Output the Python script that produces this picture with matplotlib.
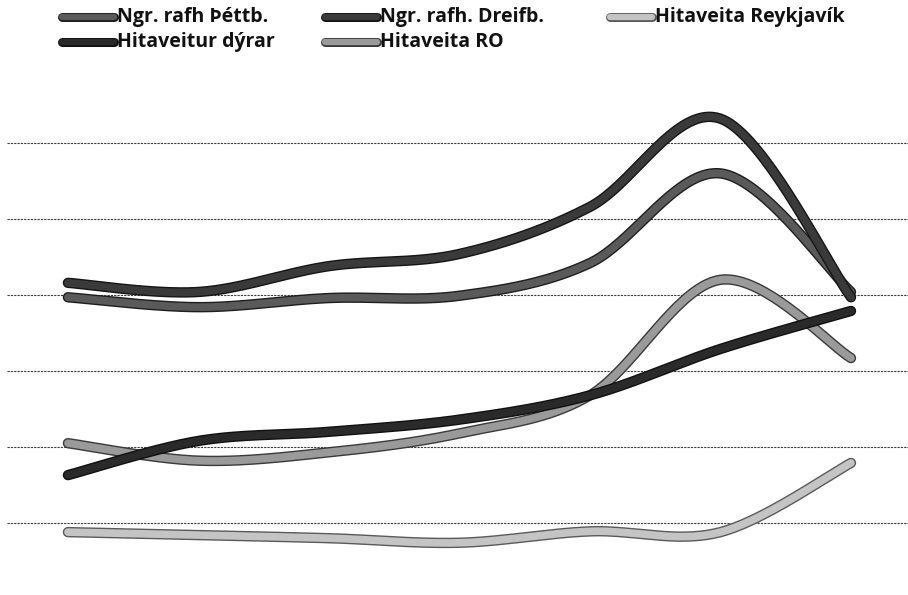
import numpy as np
import matplotlib
matplotlib.use("Agg")
import matplotlib.pyplot as plt
from matplotlib.lines import Line2D
import matplotlib.patheffects as pe

# ---- data (no axis labels in the original) ----
periods = [0, 1, 2, 3, 4, 5, 6]
ngr_thettb = [3.97, 3.84, 3.96, 3.99, 4.42, 5.60, 4.04]
ngr_dreifb = [4.16, 4.04, 4.38, 4.54, 5.16, 6.32, 3.97]
hita_rvk = [0.88, 0.84, 0.80, 0.74, 0.89, 0.88, 1.79]
hita_dyrar = [1.63, 2.08, 2.20, 2.36, 2.68, 3.29, 3.79]
hita_ro = [2.05, 1.82, 1.93, 2.18, 2.68, 4.20, 3.17]
gridvals = [1, 2, 3, 4, 5, 6]

labels = ["Ngr. rafh Þéttb.", "Ngr. rafh. Dreifb.", "Hitaveita Reykjavík",
          "Hitaveitur dýrar", "Hitaveita RO"]
series = [ngr_thettb, ngr_dreifb, hita_rvk, hita_dyrar, hita_ro]
inner = ["#5a5a5a", "#3a3a3a", "#c4c4c4", "#2a2a2a", "#9a9a9a"]
outer = ["#1e1e1e", "#151515", "#5a5a5a", "#111111", "#3a3a3a"]

def smooth(x, y, n=40):
    # Excel-like smoothing: cubic Bezier through points, Catmull-Rom tangents
    P = np.column_stack([x, y]).astype(float)
    Pe = np.vstack([P[0], P, P[-1]])
    out = []
    for i in range(len(P) - 1):
        p0, p3 = P[i], P[i + 1]
        c1 = p0 + (Pe[i + 2] - Pe[i]) / 6.0
        c2 = p3 - (Pe[i + 3] - Pe[i + 1]) / 6.0
        t = np.linspace(0, 1, n)[:, None]
        seg = ((1 - t) ** 3) * p0 + 3 * ((1 - t) ** 2) * t * c1 + 3 * (1 - t) * t ** 2 * c2 + t ** 3 * p3
        out.append(seg if i == 0 else seg[1:])
    s = np.vstack(out)
    return s[:, 0], s[:, 1]

W, H = 908, 595
fig = plt.figure(figsize=(W / 100, H / 100), dpi=100)
ax = fig.add_axes([7 / W, 0, 1 - 7 / W, (H - 60) / H])
ax.set_xlim(-0.467, 6.437)
ax.set_ylim((599 - 595) / 76, (599 - 60) / 76)
for s in ax.spines.values():
    s.set_visible(False)
ax.set_xticks([])
ax.set_yticks(gridvals)
ax.set_yticklabels([])
ax.tick_params(length=0)
ax.grid(axis="y", color="#3a3a3a", linewidth=0.8, linestyle=(0, (2, 1)))
ax.set_axisbelow(True)

order = [2, 4, 0, 3, 1]
for k in order:
    xs, ys = smooth(periods, series[k])
    ax.plot(xs, ys, color=inner[k], linewidth=5.5, solid_capstyle="round",
            path_effects=[pe.Stroke(linewidth=7.5, foreground=outer[k]), pe.Normal()])

# ---- legend (two rows, Excel-like placement) ----
legend_pos = [(62, 17, 52), (325, 17, 52), (610, 17, 42), (62, 42, 52), (325, 42, 52)]
for k, (px, py, ln_len) in enumerate(legend_pos):
    x0 = px / W
    x1 = (px + ln_len) / W
    yy = 1 - py / H
    ln = Line2D([x0, x1], [yy, yy], transform=fig.transFigure, color=inner[k],
                linewidth=4.5, solid_capstyle="round",
                path_effects=[pe.Stroke(linewidth=6.5, foreground=outer[k]), pe.Normal()])
    fig.add_artist(ln)
    fig.text(x1 + 3 / W, yy, labels[k], ha="left", va="center",
             fontsize=14, fontweight="bold", family=["Open Sans", "DejaVu Sans"],
             color="#111111")

fig.savefig("out.png", dpi=100)
